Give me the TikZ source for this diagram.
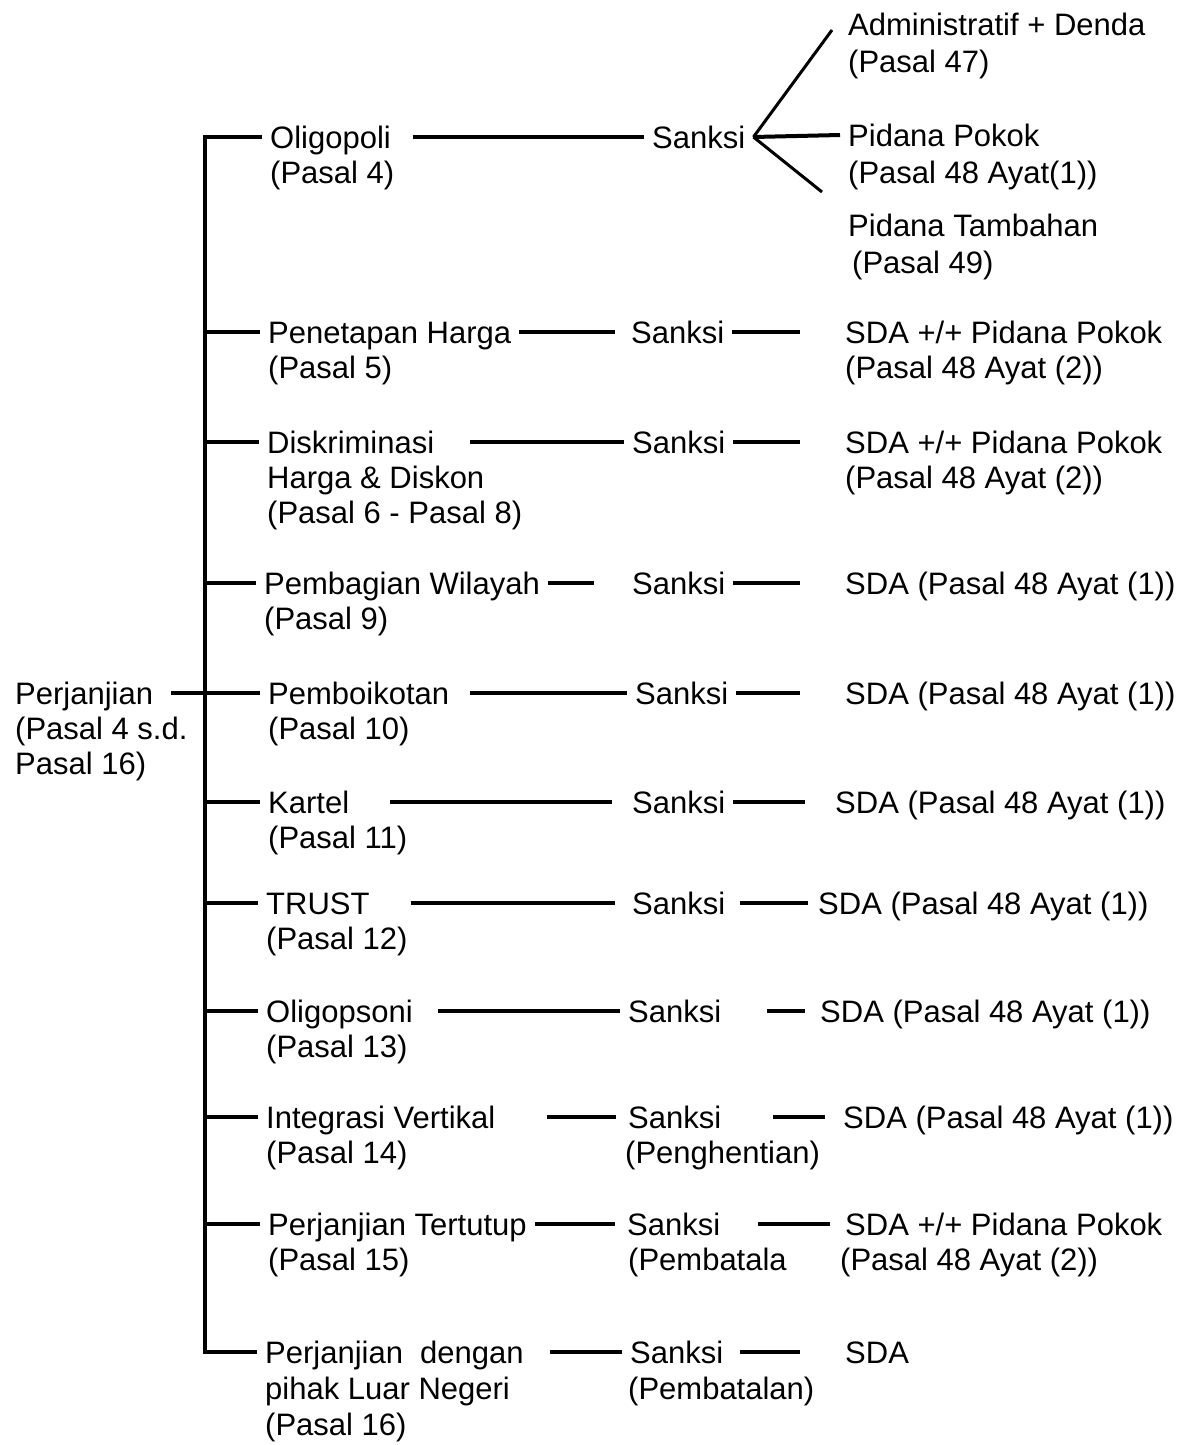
\documentclass[tikz,border=0pt]{standalone}
\usepackage{fontspec}
\setmainfont{Liberation Sans}
\begin{document}
\begin{tikzpicture}[x=1pt,y=-1pt,
  lbl/.style={anchor=west, inner xsep=8pt, inner ysep=0pt, text height=22pt, text depth=0pt, font=\fontsize{31}{36}\selectfont},
  conn/.style={line width=4pt},
  trunk/.style={line width=3.5pt},
  fan/.style={line width=3pt}]
\useasboundingbox (0,0) rectangle (1183,1445);
% ---------- root
\node[lbl] (per) at (7,693) {Perjanjian};
\node[lbl] (perB) at (7,728) {(Pasal 4 s.d.};
\node[lbl] (perC) at (7,763) {Pasal 16)};
% ---------- row 1
\node[lbl] (oli) at (262,137) {Oligopoli};
\node[lbl] (oliB) at (262,172) {(Pasal 4)};
\node[lbl] (s1) at (644,137) {Sanksi};
\node[lbl] (adm) at (840,25) {Administratif + Denda};
\node[lbl] (admB) at (840,62) {(Pasal 47)};
\node[lbl] (pp) at (840,135) {Pidana Pokok};
\node[lbl] (ppB) at (840,172) {(Pasal 48 Ayat(1))};
\node[lbl] (pt) at (840,225) {Pidana Tambahan};
\node[lbl] (ptB) at (844,262) {(Pasal 49)};
\coordinate (fanA) at (832,30);
\coordinate (fanC) at (822,192);
% ---------- row 2
\node[lbl] (har) at (260,332) {Penetapan Harga};
\node[lbl] (harB) at (260,367) {(Pasal 5)};
\node[lbl] (s2) at (623,332) {Sanksi};
\node[lbl] (r2) at (837,332) {SDA +/+ Pidana Pokok};
\node[lbl] (r2B) at (837,367) {(Pasal 48 Ayat (2))};
% ---------- row 3
\node[lbl] (dis) at (259,442) {Diskriminasi};
\node[lbl] (disB) at (259,477) {Harga \& Diskon};
\node[lbl] (disC) at (259,512) {(Pasal 6 - Pasal 8)};
\node[lbl] (s3) at (624,442) {Sanksi};
\node[lbl] (r3) at (837,442) {SDA +/+ Pidana Pokok};
\node[lbl] (r3B) at (837,477) {(Pasal 48 Ayat (2))};
% ---------- row 4
\node[lbl] (wil) at (256,583) {Pembagian Wilayah};
\node[lbl] (wilB) at (256,618) {(Pasal 9)};
\node[lbl] (s4) at (624,583) {Sanksi};
\node[lbl] (r4) at (837,583) {SDA (Pasal 48 Ayat (1))};
% ---------- row 5
\node[lbl] (pem) at (260,693) {Pemboikotan};
\node[lbl] (pemB) at (260,728) {(Pasal 10)};
\node[lbl] (s5) at (627,693) {Sanksi};
\node[lbl] (r5) at (837,693) {SDA (Pasal 48 Ayat (1))};
% ---------- row 6
\node[lbl] (kar) at (260,802) {Kartel};
\node[lbl] (karB) at (260,837) {(Pasal 11)};
\node[lbl] (s6) at (624,802) {Sanksi};
\node[lbl] (r6) at (827,802) {SDA (Pasal 48 Ayat (1))};
% ---------- row 7
\node[lbl] (tru) at (258,903) {TRUST};
\node[lbl] (truB) at (258,938) {(Pasal 12)};
\node[lbl] (s7) at (624,903) {Sanksi};
\node[lbl] (r7) at (810,903) {SDA (Pasal 48 Ayat (1))};
% ---------- row 8
\node[lbl] (ops) at (258,1011) {Oligopsoni};
\node[lbl] (opsB) at (258,1046) {(Pasal 13)};
\node[lbl] (s8) at (620,1011) {Sanksi};
\node[lbl] (r8) at (812,1011) {SDA (Pasal 48 Ayat (1))};
% ---------- row 9
\node[lbl] (int) at (258,1117) {Integrasi Vertikal};
\node[lbl] (intB) at (258,1152) {(Pasal 14)};
\node[lbl] (s9) at (620,1117) {Sanksi};
\node[lbl] (s9B) at (617,1152) {(Penghentian)};
\node[lbl] (r9) at (835,1117) {SDA (Pasal 48 Ayat (1))};
% ---------- row 10
\node[lbl] (ter) at (260,1224) {Perjanjian Tertutup};
\node[lbl] (terB) at (260,1259) {(Pasal 15)};
\node[lbl] (s10) at (619,1224) {Sanksi};
\node[lbl] (s10B) at (620,1259) {(Pembatala};
\node[lbl] (r10) at (837,1224) {SDA +/+ Pidana Pokok};
\node[lbl] (r10B) at (832,1259) {(Pasal 48 Ayat (2))};
% ---------- row 11
\node[lbl] (deng) at (257,1352) {Perjanjian\ \ dengan};
\node[lbl] (dengB) at (257,1388) {pihak Luar Negeri};
\node[lbl] (dengC) at (257,1424) {(Pasal 16)};
\node[lbl] (s11) at (622,1352) {Sanksi};
\node[lbl] (s11B) at (620,1388) {(Pembatalan)};
\node[lbl] (r11) at (837,1352) {SDA};
% ---------- trunk and ticks
\coordinate (tt) at (205,137);
\coordinate (tb) at (205,1352);
\draw[trunk] (oli.west) -- (tt) -- (tb) -- (deng.west);
\foreach \n in {har,dis,wil,pem,kar,tru,ops,int,ter}
  \draw[trunk] (tt |- \n.west) -- (\n.west);
\draw[trunk, shorten <=10pt] (per.east) -- (pem.west);
% ---------- item -> Sanksi
\draw[conn, shorten <=14pt] (oli.east) -- (s1.west);
\draw[conn, shorten >=8pt] (har.east) -- (s2.west);
\draw[conn, shorten <=28pt] (dis.east) -- (s3.west);
\draw[conn, shorten >=30pt] (wil.east) -- (s4.west);
\draw[conn, shorten <=13pt] (pem.east) -- (s5.west);
\draw[conn, shorten <=33pt, shorten >=12pt] (kar.east) -- (s6.west);
\draw[conn, shorten <=33pt, shorten >=9pt] (tru.east) -- (s7.west);
\draw[conn, shorten <=17pt] (ops.east) -- (s8.west);
\draw[conn, shorten <=43pt, shorten >=4pt] (int.east) -- (s9.west);
\draw[conn, shorten >=4pt] (ter.east) -- (s10.west);
\draw[conn, shorten <=18pt] (deng.east) -- (s11.west);
% ---------- Sanksi -> result
\draw[fan] (s1.east) -- (fanA);
\draw[conn] (s1.east) -- (pp.west);
\draw[fan] (s1.east) -- (fanC);
\draw[conn, shorten >=37pt] (s2.east) -- (r2.west);
\draw[conn, shorten >=37pt] (s3.east) -- (r3.west);
\draw[conn, shorten >=37pt] (s4.east) -- (r4.west);
\draw[conn, shorten >=37pt] (s5.east) -- (r5.west);
\draw[conn, shorten >=22pt] (s6.east) -- (r6.west);
\draw[conn, shorten <=7pt, shorten >=2pt] (s7.east) -- (r7.west);
\draw[conn, shorten <=38pt, shorten >=7pt] (s8.east) -- (r8.west);
\draw[conn, shorten <=44pt, shorten >=10pt] (s9.east) -- (r9.west);
\draw[conn, shorten <=30pt, shorten >=7pt] (s10.east) -- (r10.west);
\draw[conn, shorten <=9pt, shorten >=37pt] (s11.east) -- (r11.west);
\end{tikzpicture}
\end{document}
